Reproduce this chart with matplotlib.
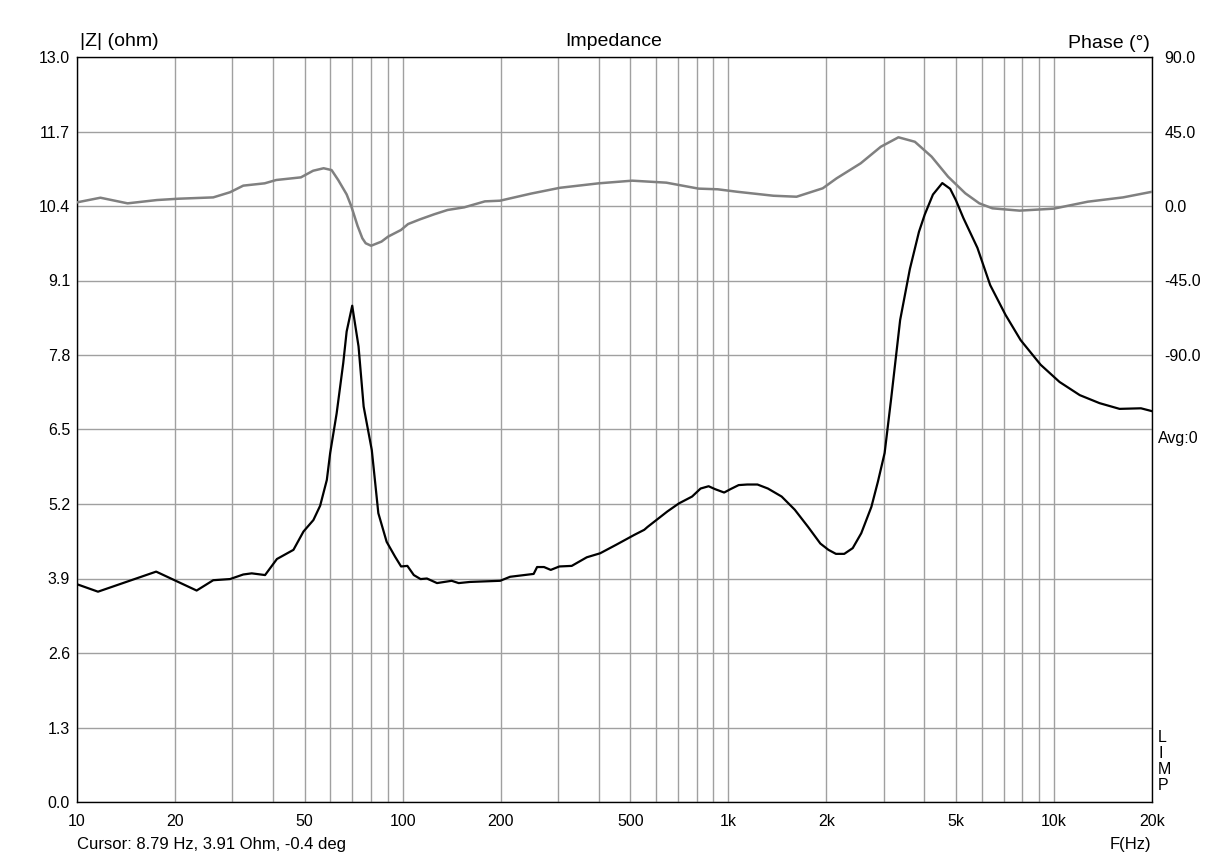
import matplotlib
matplotlib.use("Agg")
import matplotlib.pyplot as plt
from matplotlib.ticker import FixedLocator, NullFormatter

plt.rcParams['font.family'] = ['Liberation Sans', 'DejaVu Sans']

# Impedance magnitude (ohm)
imp_freq = [10, 11.6, 17.5, 23.3, 26.2, 29.5, 32.4, 34.4, 37.8, 41.1, 46.2, 49.6, 53.2,
            55.8, 58.5, 59.9, 62.7, 65.7, 67.3, 70.0, 73.2, 75.9, 80.4, 84.2, 89.3, 94.8,
            98.9, 103.4, 108.2, 113.5, 118.7, 127.5, 141.4, 148.6, 161.0, 199.3, 213.7,
            252.5, 258.7, 271.7, 284.9, 302.8, 330.5, 367.6, 404, 453, 514, 552, 565, 650,
            705, 774, 822, 870, 910, 971, 1016, 1076, 1143, 1229, 1323, 1458, 1600, 1758,
            1917, 2030, 2140, 2270, 2410, 2560, 2750, 2880, 3020, 3160, 3370, 3610, 3850,
            4010, 4250, 4540, 4800, 5000, 5270, 5820, 6370, 7100, 7900, 9100, 10400, 12000,
            13800, 15900, 18500, 20000]
imp_ohm = [3.80, 3.67, 4.02, 3.69, 3.87, 3.89, 3.97, 3.99, 3.96, 4.24, 4.40, 4.72, 4.92,
           5.17, 5.62, 6.09, 6.78, 7.66, 8.21, 8.66, 7.95, 6.90, 6.14, 5.04, 4.54, 4.28,
           4.11, 4.12, 3.96, 3.89, 3.90, 3.82, 3.86, 3.82, 3.84, 3.86, 3.93,
           3.98, 4.10, 4.10, 4.05, 4.11, 4.12, 4.27, 4.34, 4.49, 4.66, 4.75, 4.80, 5.07,
           5.21, 5.33, 5.47, 5.51, 5.46, 5.40, 5.46, 5.53, 5.54, 5.54, 5.47, 5.33, 5.10, 4.80,
           4.51, 4.40, 4.33, 4.33, 4.43, 4.69, 5.15, 5.59, 6.09, 7.02, 8.41, 9.30, 9.95,
           10.25, 10.60, 10.80, 10.70, 10.50, 10.19, 9.67, 9.02, 8.50, 8.06, 7.63, 7.33, 7.10,
           6.96, 6.86, 6.87, 6.82]

# Phase (degrees)
ph_freq = [10, 11.8, 14.3, 17.6, 20.5, 26.2, 29.5, 32.4, 37.7, 40.9, 48.7, 53.1, 57.2,
           60.5, 63.4, 67.3, 69.5, 72.7, 75.2, 77.0, 80.0, 86.1, 90.2, 98.8, 103.9, 112.9,
           125.0, 137.4, 154.6, 178.9, 199.0, 248, 304, 400, 507, 645, 810, 927, 1065, 1375,
           1620, 1950, 2150, 2550, 2940, 3330, 3740, 4210, 4730, 5340, 5900, 6470,
           7840, 9990, 12700, 16300, 20000]
ph_deg = [2.2, 5.0, 1.6, 3.6, 4.4, 5.2, 8.3, 12.3, 13.7, 15.7, 17.3, 21.3, 22.8,
          21.7, 15.7, 7.0, 0.0, -12.0, -19.5, -22.5, -24.0, -21.5, -18.5, -14.5, -10.9,
          -8.1, -5.0, -2.4, -0.8, 2.8, 3.2, 7.5, 11.0, 13.7, 15.3, 14.1, 10.5, 10.1, 8.6,
          6.2, 5.6, 10.7, 16.7, 25.8, 35.8, 41.5, 38.8, 29.8, 17.7, 7.7, 1.6, -1.4,
          -2.8, -1.6, 2.6, 5.2, 8.6]

x_ticks = [10, 20, 50, 100, 200, 500, 1000, 2000, 5000, 10000, 20000]
x_labels = ['10', '20', '50', '100', '200', '500', '1k', '2k', '5k', '10k', '20k']
z_ticks = [0.0, 1.3, 2.6, 3.9, 5.2, 6.5, 7.8, 9.1, 10.4, 11.7, 13.0]
ph_ticks = [90, 45, 0, -45, -90]

W, H = 1228, 859
fig = plt.figure(figsize=(W / 100, H / 100), dpi=100)
ax = fig.add_axes([77 / W, 1 - 802 / H, (1152 - 77) / W, (802 - 57) / H])

grid_c = '#a0a0a0'
ax.set_xscale('log')
ax.set_xlim(10, 20000)
ax.set_ylim(0, 13.0)
ax.xaxis.set_major_locator(FixedLocator(x_ticks))
ax.set_xticklabels(x_labels)
minor = [m * 10 ** e for e in range(1, 5) for m in range(2, 10)]
minor = [v for v in minor if 10 < v < 20000 and v not in x_ticks]
ax.xaxis.set_minor_locator(FixedLocator(minor))
ax.xaxis.set_minor_formatter(NullFormatter())
ax.set_yticks(z_ticks)
ax.set_yticklabels([f'{v:.1f}' for v in z_ticks])
ax.grid(True, which='both', axis='x', color=grid_c, linewidth=1.0)
ax.grid(True, which='major', axis='y', color=grid_c, linewidth=1.0)
ax.tick_params(which='both', length=0, labelsize=11.5)
ax.tick_params(axis='y', pad=5)
ax.tick_params(axis='x', pad=9)
for s in ax.spines.values():
    s.set_color('black')
    s.set_linewidth(1.0)

ax.plot(imp_freq, imp_ohm, color='black', linewidth=1.6, zorder=4)

ax2 = ax.twinx()
ax2.set_ylim(-360, 90)
ax2.set_yticks(ph_ticks)
ax2.set_yticklabels([f'{v:.1f}' for v in ph_ticks])
ax2.tick_params(length=0, labelsize=11.5, pad=9)
for s in ax2.spines.values():
    s.set_visible(False)
ax2.plot(ph_freq, ph_deg, color='#808080', linewidth=1.8, zorder=3)

fig.text(80 / W, 1 - 42 / H, '|Z| (ohm)', fontsize=14, ha='left', va='center')
fig.text(614 / W, 1 - 42 / H, 'Impedance', fontsize=14, ha='center', va='center')
fig.text(1150 / W, 1 - 44 / H, 'Phase (°)', fontsize=14, ha='right', va='center')
fig.text(1158 / W, 1 - 438 / H, 'Avg:0', fontsize=11.5, ha='left', va='center')
fig.text(77 / W, 1 - 845 / H, 'Cursor: 8.79 Hz, 3.91 Ohm, -0.4 deg', fontsize=12,
         ha='left', va='center')
fig.text(1151 / W, 1 - 845 / H, 'F(Hz)', fontsize=12, ha='right', va='center')
for i, ch in enumerate('LIMP'):
    fig.text(1158 / W, 1 - (737 + i * 16) / H, ch, fontsize=11.5, ha='left', va='center')

fig.savefig('out.png', dpi=100)
